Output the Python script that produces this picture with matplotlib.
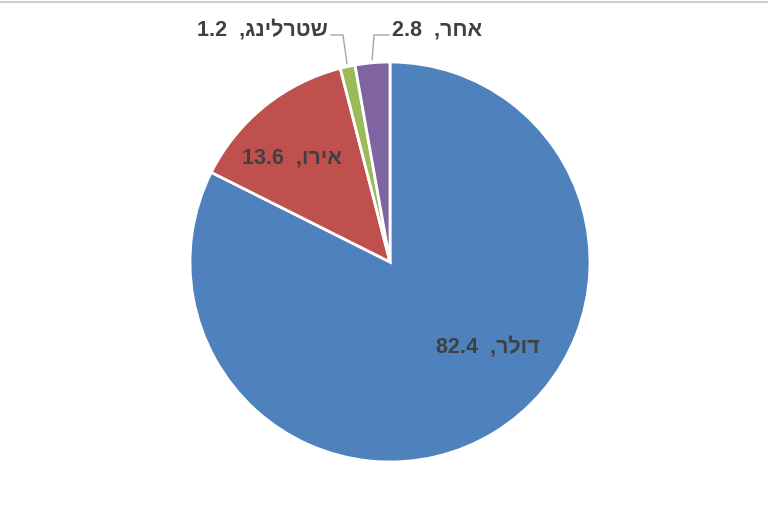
import numpy as np
import matplotlib.pyplot as plt
from matplotlib.lines import Line2D

# currency shares (%), clockwise from the top
names = ['דולר', 'אירו', 'שטרלינג', 'אחר']
shares = [82.4, 13.6, 1.2, 2.8]
colors = ['#4F81BD', '#C0504D', '#9BBB59', '#8064A2']

plt.rcParams['font.family'] = ['Liberation Sans', 'DejaVu Sans']


def label(word, value):
    # matplotlib has no bidi, so reverse the Hebrew by hand
    return f'{value}  ,{word[::-1]}'


fig = plt.figure(figsize=(7.68, 5.12), dpi=100)
ax = fig.add_axes([0, 0, 1, 1])

cx, cy, r = 390, 250, 200
wedges, _ = ax.pie(shares, colors=colors, startangle=90, counterclock=False,
                   center=(cx, cy), radius=r,
                   wedgeprops=dict(edgecolor='white', linewidth=2))
ax.set_xlim(0, 768)
ax.set_ylim(0, 512)
ax.set_aspect('equal')
ax.axis('off')

txt = dict(fontsize=15.5, fontweight='bold', color='#404040', va='center')

# big slices: label inside
ax.text(488, 165, label(names[0], shares[0]), ha='center', **txt)
ax.text(292, 354, label(names[1], shares[1]), ha='center', **txt)

# small slices: label above with a leader line
outside = {2: (328, 'right', 331, 343), 3: (392, 'left', 389, 374)}
ly = 477
for i, (tx, ha, x0, x1) in outside.items():
    w = wedges[i]
    mid = np.deg2rad((w.theta1 + w.theta2) / 2)
    px = cx + (r + 3) * np.cos(mid)
    py = cy + (r + 3) * np.sin(mid)
    ax.plot([x0, x1, px], [ly, ly, py], color='#a6a6a6', lw=1)
    ax.text(tx, ly + 5, label(names[i], shares[i]), ha=ha, **txt)

fig.add_artist(Line2D([0, 1], [0.997, 0.997], color='#d0d0d0', lw=1.5,
                      transform=fig.transFigure))

fig.savefig('out.png', dpi=100, facecolor='white')
